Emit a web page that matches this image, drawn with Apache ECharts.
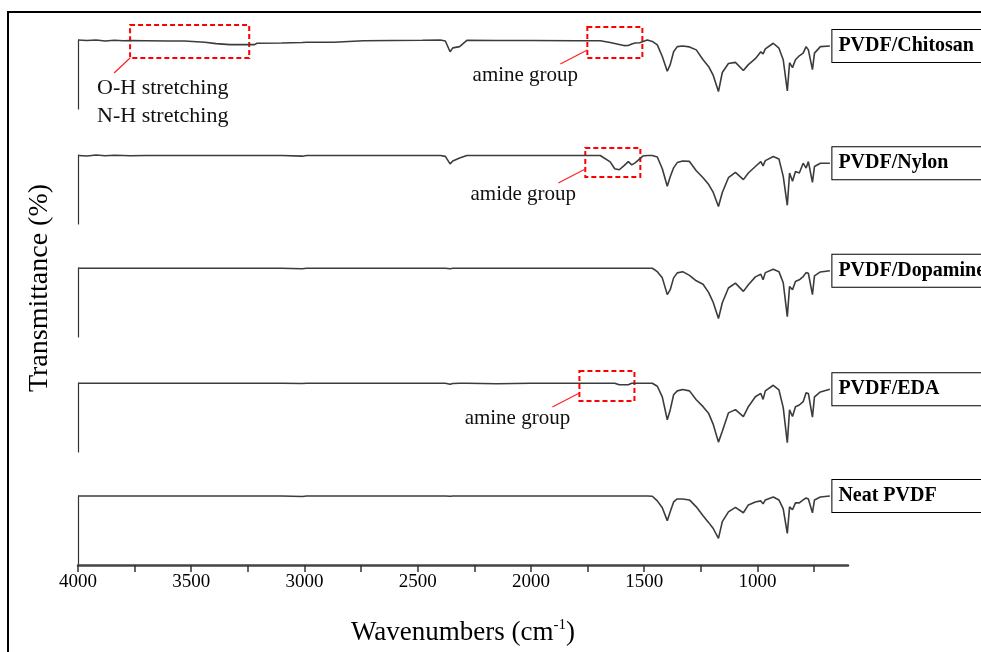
<!DOCTYPE html>
<html>
<head>
<meta charset="utf-8">
<title>FTIR spectra</title>
<script src="https://cdn.jsdelivr.net/npm/echarts@6/dist/echarts.min.js"></script>
<style>
html, body { margin: 0; padding: 0; background: #fff; }
#main { width: 981px; height: 652px; }
</style>
</head>
<body>
<div id="main"></div>
<script>
// wavenumber (cm-1), high to low, shared by every spectrum
var wavenumbers = [
  4000, 3960, 3920, 3880, 3840, 3800, 3770, 3700, 3600, 3530,
  3440, 3390, 3330, 3220, 3210, 3100, 3010, 2990, 2870, 2740,
  2480, 2400, 2378, 2357, 2345, 2315, 2283, 2150, 2000, 1800,
  1705, 1694, 1650, 1630, 1610, 1590, 1583, 1570, 1555, 1540,
  1520, 1505, 1486, 1464, 1442, 1420, 1398, 1385, 1370, 1354,
  1330, 1300, 1270, 1240, 1215, 1195, 1172, 1155, 1128, 1097,
  1062, 1040, 1009, 985, 975, 965, 930, 905, 886, 868,
  858, 845, 832, 815, 798, 785, 775, 757, 748, 722, 680
];

// transmittance of each sample (%, arbitrary offset per panel)
var chitosan = [
  100, 99.3, 100, 98.6, 99.6, 98.9, 99.3, 99, 98.6, 98.6,
  96.7, 94.7, 93.3, 93.3, 95.3, 95.7, 96.4, 96.7, 96.7, 99,
  99.6, 100, 98.6, 82.9, 88.6, 90.4, 99.6, 99.3, 99.3, 99,
  99, 98.9, 96.4, 95, 93.6, 91.9, 91.4, 92.1, 94.3, 95.7,
  96.1, 97.9, 100, 97.9, 92.9, 76.1, 54.7, 64.3, 82.9, 90.4,
  91.4, 90, 85.7, 71.4, 61.4, 48.6, 25.3, 52.9, 66, 67.6,
  55.7, 64.3, 72.9, 82.9, 80, 87.1, 95.3, 88.1, 71.4, 26.1,
  67.1, 60, 71.4, 77.1, 81, 90.4, 85.7, 57.1, 81, 90.4, 91.4
];
var nylon = [
  99.3, 98.6, 100, 98.9, 99.6, 99.3, 98.9, 99.3, 99.3, 99.3,
  99.3, 99.3, 99.3, 99.3, 99.3, 99.3, 98.3, 99.3, 99.3, 99.3,
  99.3, 99.3, 98, 87.1, 91.4, 95.7, 99.3, 99.3, 99.3, 99.3,
  99.3, 99.3, 90, 80, 78.6, 84.3, 87.1, 90.4, 85.7, 88.6,
  94.3, 98.6, 99.3, 99.3, 97.1, 80, 54.7, 68.6, 81.4, 89,
  91.4, 90.7, 77.1, 67.1, 57.1, 45.7, 25.3, 45.7, 67.1, 74.7,
  64.3, 73.9, 83.3, 90.4, 84.3, 91.9, 97.9, 94.3, 69, 27.1,
  73.9, 61.9, 76.1, 73.9, 88.1, 81, 90.4, 60.4, 83.3, 88.1, 88.1
];
var dopamine = [
  99.6, 99.6, 99.6, 99.6, 99.6, 99.6, 99.6, 99.6, 99.6, 99.6,
  99.6, 99.6, 99.6, 99.6, 99.6, 99.6, 99, 99.6, 99.6, 99.6,
  99.6, 99.6, 99.6, 99, 99.6, 99.6, 99.6, 99.6, 99.6, 99.6,
  99.6, 99.6, 99.6, 99.6, 99.6, 99.6, 99.6, 99.6, 99.6, 99.6,
  99.6, 99.6, 99.6, 99.6, 94.7, 85.7, 61.4, 68.6, 85.7, 92.9,
  94.7, 89.3, 81.4, 76.4, 64.3, 50, 26.7, 49.6, 71, 78.1,
  66.1, 75.7, 87.1, 91, 82.9, 93.3, 98.1, 94.7, 78.6, 29.6,
  73.3, 68.6, 80.4, 82.9, 87.6, 93.3, 92.4, 61.4, 88.6, 94.3, 96.1
];
var eda = [
  99.6, 99.6, 99.6, 99.6, 99.6, 99.6, 99.6, 99.6, 99.6, 99.6,
  99.6, 99.6, 99.6, 99.6, 99.6, 99.6, 99.3, 99.6, 99.6, 99.6,
  99.6, 99.6, 99.6, 98.3, 99.3, 99.6, 99.6, 99, 99.6, 99.6,
  99.6, 99.6, 99.6, 99.6, 97.4, 97.4, 97.4, 97.4, 99.6, 99.6,
  99.6, 99.6, 99.6, 99.6, 95.3, 80, 46.7, 61, 82.9, 88.6,
  90.7, 88.6, 75.7, 65.7, 55.7, 40, 14.3, 30, 56.7, 61.4,
  51.4, 65.7, 80, 84.9, 76.3, 88.6, 96.7, 90, 64.3, 13.4,
  61, 51.4, 65.7, 68.1, 72.9, 85.7, 84.9, 50.6, 80, 87.1, 91
];
var neat = [
  100, 100, 100, 100, 100, 100, 100, 100, 100, 100,
  100, 100, 100, 100, 100, 100, 99.3, 100, 100, 100,
  100, 100, 100, 99.6, 100, 100, 100, 100, 100, 100,
  100, 100, 100, 100, 100, 100, 100, 100, 100, 100,
  100, 100, 100, 99.6, 92.9, 82.9, 64.3, 77.1, 91.4, 95.7,
  95.7, 94.3, 84.3, 71.4, 61.4, 52.9, 38.6, 62.9, 77.1, 83.6,
  75.7, 87.1, 91.4, 92.9, 88.6, 94.3, 98.6, 94.3, 81.4, 45.7,
  84.3, 80, 90, 90, 94.3, 97.1, 95.7, 75.7, 94.3, 98.6, 100
];

var sampleNames = ['PVDF/Chitosan', 'PVDF/Nylon', 'PVDF/Dopamine', 'PVDF/EDA', 'Neat PVDF'];
var spectra = [chitosan, nylon, dopamine, eda, neat];

var tickLabels = [4000, 3500, 3000, 2500, 2000, 1500, 1000];
var tickMarks = [4000, 3750, 3500, 3250, 3000, 2750, 2500, 2250, 2000, 1750, 1500, 1250, 1000, 750];

// red dashed boxes, in data units of their panel
var annPanel = [0, 0, 1, 3];
var annFrom = [3770, 1751, 1760, 1786];
var annTo = [3244, 1508, 1517, 1543];
var annTop = [121.7, 118.8, 110.1, 117.4];
var annBottom = [73.9, 73.9, 68.1, 73.9];
var annText = ['O-H stretching\nN-H stretching', 'amine group', 'amide group', 'amine group'];

var serif = '"Liberation Serif", "Times New Roman", serif';
var panelTop = [40, 155, 268, 383, 496];

var chart = echarts.init(document.getElementById('main'));

var grids = [], xAxes = [], yAxes = [], series = [];
spectra.forEach(function (vals, i) {
  var last = wavenumbers.length - 1;
  var isBottom = i === spectra.length - 1;
  grids.push({ left: 78, top: panelTop[i], width: 770, height: 69 });
  xAxes.push({
    type: 'value', gridIndex: i, min: 600, max: 4000, inverse: true,
    show: isBottom,
    axisLine: { onZero: false, lineStyle: { color: '#444', width: 2.5 } },
    axisTick: { customValues: tickMarks, length: 7, lineStyle: { color: '#333', width: 1.5 } },
    axisLabel: {
      customValues: tickLabels, color: '#000', fontSize: 19, fontFamily: serif, margin: 8,
      formatter: function (v) { return String(v); }
    },
    splitLine: { show: false },
    name: isBottom ? '{t|Wavenumbers (cm}{s|-1}{t|)}' : '',
    nameLocation: 'middle',
    nameGap: 53,
    nameTextStyle: {
      rich: {
        t: { fontSize: 27, fontFamily: serif, color: '#000', lineHeight: 30 },
        s: { fontSize: 15, fontFamily: serif, color: '#000', verticalAlign: 'top', lineHeight: 30 }
      }
    }
  });
  yAxes.push({
    type: 'value', gridIndex: i, min: 0, max: 100,
    axisLine: { show: true, onZero: false, lineStyle: { color: '#333', width: 1.2 } },
    axisTick: { show: false },
    axisLabel: { show: false },
    splitLine: { show: false }
  });
  series.push({
    name: sampleNames[i],
    type: 'line',
    xAxisIndex: i,
    yAxisIndex: i,
    data: wavenumbers.map(function (w, k) { return [w, vals[k]]; }),
    symbol: 'none',
    clip: false,
    lineStyle: { color: '#3c3c3c', width: 1.6 },
    markPoint: {
      symbol: 'circle',
      symbolSize: 1,
      itemStyle: { color: 'rgba(0,0,0,0)' },
      label: {
        show: true, position: 'right', distance: 2,
        formatter: '{b}',
        color: '#000', fontFamily: serif, fontWeight: 'bold', fontSize: 20, lineHeight: 20,
        backgroundColor: '#fff', borderColor: '#000', borderWidth: 1,
        padding: [6, 6], width: 150
      },
      data: [{ name: sampleNames[i], coord: [wavenumbers[last], vals[last]] }]
    }
  });
});

chart.setOption({
  animation: false,
  backgroundColor: '#fff',
  grid: grids,
  xAxis: xAxes,
  yAxis: yAxes,
  series: series
});

// frame, y title and the red call-outs
var g = [
  { type: 'rect', shape: { x: 8, y: 12, width: 1000, height: 700 },
    style: { fill: 'none', stroke: '#000', lineWidth: 2 } },
  { type: 'text', x: 40, y: 288, rotation: Math.PI / 2,
    style: { text: 'Transmittance (%)', textAlign: 'center', textVerticalAlign: 'middle',
             font: '28px ' + serif, fill: '#000' } }
];
annPanel.forEach(function (p, i) {
  var a = chart.convertToPixel({ xAxisIndex: p, yAxisIndex: p }, [annFrom[i], annTop[i]]);
  var b = chart.convertToPixel({ xAxisIndex: p, yAxisIndex: p }, [annTo[i], annBottom[i]]);
  g.push({ type: 'rect', shape: { x: a[0], y: a[1], width: b[0] - a[0], height: b[1] - a[1] },
           style: { fill: 'none', stroke: '#f00', lineWidth: 2, lineDash: [5, 3] } });
  if (i === 0) {
    g.push({ type: 'line', shape: { x1: a[0], y1: b[1], x2: a[0] - 16, y2: b[1] + 15 },
             style: { stroke: '#f22', lineWidth: 1.2 } });
    g.push({ type: 'text', x: a[0] - 33, y: b[1] + 16,
             style: { text: annText[i], textAlign: 'left', textVerticalAlign: 'top', lineHeight: 28,
                      font: '22px ' + serif, fill: '#111' } });
  } else {
    g.push({ type: 'line', shape: { x1: a[0], y1: b[1] - 8, x2: a[0] - 27, y2: b[1] + 6 },
             style: { stroke: '#f22', lineWidth: 1.2 } });
    g.push({ type: 'text', x: a[0] - 62, y: b[1] + 17,
             style: { text: annText[i], textAlign: 'center', textVerticalAlign: 'middle',
                      font: '21px ' + serif, fill: '#111' } });
  }
});
chart.setOption({ graphic: g });
</script>
</body>
</html>
